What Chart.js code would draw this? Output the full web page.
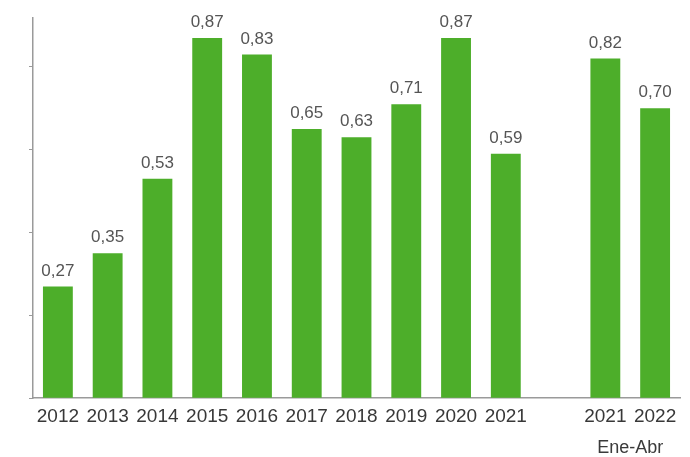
<!DOCTYPE html>
<html>
<head>
<meta charset="utf-8">
<script src="https://cdn.jsdelivr.net/npm/chart.js@4"></script>
<style>
  html, body { margin: 0; padding: 0; background: #fff; }
  #wrap { width: 690px; height: 457px; }
</style>
</head>
<body>
<div id="wrap"><canvas id="myChart"></canvas></div>
<script>
// data
var years = ['2012', '2013', '2014', '2015', '2016', '2017', '2018', '2019', '2020', '2021', '', '2021', '2022']
var values = [0.27, 0.35, 0.53, 0.87, 0.83, 0.65, 0.63, 0.71, 0.87, 0.59, null, 0.82, 0.70]
var yTicks = [0, 0.2, 0.4, 0.6, 0.8]
var periodLabel = 'Ene-Abr'

var green = '#4dae2a'

// value on top of each bar, comma decimal
var valueLabels = {
	id: 'valueLabels',
	afterDatasetsDraw: function(chart){
		var ctx = chart.ctx
		var meta = chart.getDatasetMeta(0)
		ctx.save()
		ctx.font = '17px "Liberation Sans", Arial, sans-serif'
		ctx.fillStyle = '#555'
		ctx.textAlign = 'center'
		ctx.textBaseline = 'bottom'
		meta.data.forEach(function(bar, i){
			if(values[i] == null) return
			ctx.fillText(values[i].toFixed(2).replace('.', ','), bar.x, bar.y - 7)
		})
		ctx.restore()
	}
}

// "Ene-Abr" under the last two bars
var periodText = {
	id: 'periodText',
	afterDraw: function(chart){
		var x = chart.scales.x
		var a = x.getPixelForValue(years.length - 2)
		var b = x.getPixelForValue(years.length - 1)
		var ctx = chart.ctx
		ctx.save()
		ctx.font = '18px "Liberation Sans", Arial, sans-serif'
		ctx.fillStyle = '#3a3a3a'
		ctx.textAlign = 'center'
		ctx.textBaseline = 'middle'
		ctx.fillText(periodLabel, (a + b) / 2, x.top + 50)
		ctx.restore()
	}
}

var myChart = document.getElementById('myChart').getContext('2d')

var chart = new Chart(myChart, {
	type: 'bar',
	data: {
		labels: years,
		datasets: [
			{
				data: values,
				backgroundColor: green,
				barPercentage: 0.6,
				categoryPercentage: 1
			}
		]
	},
	options: {
		responsive: true,
		maintainAspectRatio: false,
		animation: false,
		layout: { padding: { left: 29, right: 10, top: 18, bottom: 22 } },
		plugins: {
			legend: { display: false },
			tooltip: { enabled: false }
		},
		scales: {
			x: {
				offset: true,
				grid: { display: true, drawOnChartArea: false, drawTicks: false },
				border: { color: '#9a9a9a', width: 1.5 },
				ticks: {
					color: '#383838',
					padding: 7,
					maxRotation: 0,
					autoSkip: false,
					font: { family: '"Liberation Sans", Arial, sans-serif', size: 19 }
				}
			},
			y: {
				min: 0,
				max: 0.918,
				afterBuildTicks: function(scale){
					scale.ticks = yTicks.map(function(v){ return { value: v } })
				},
				grid: { drawOnChartArea: false, tickLength: 4, color: '#9a9a9a' },
				border: { color: '#9a9a9a', width: 1.5 },
				ticks: { display: false }
			}
		}
	},
	plugins: [valueLabels, periodText]
})
</script>
</body>
</html>
